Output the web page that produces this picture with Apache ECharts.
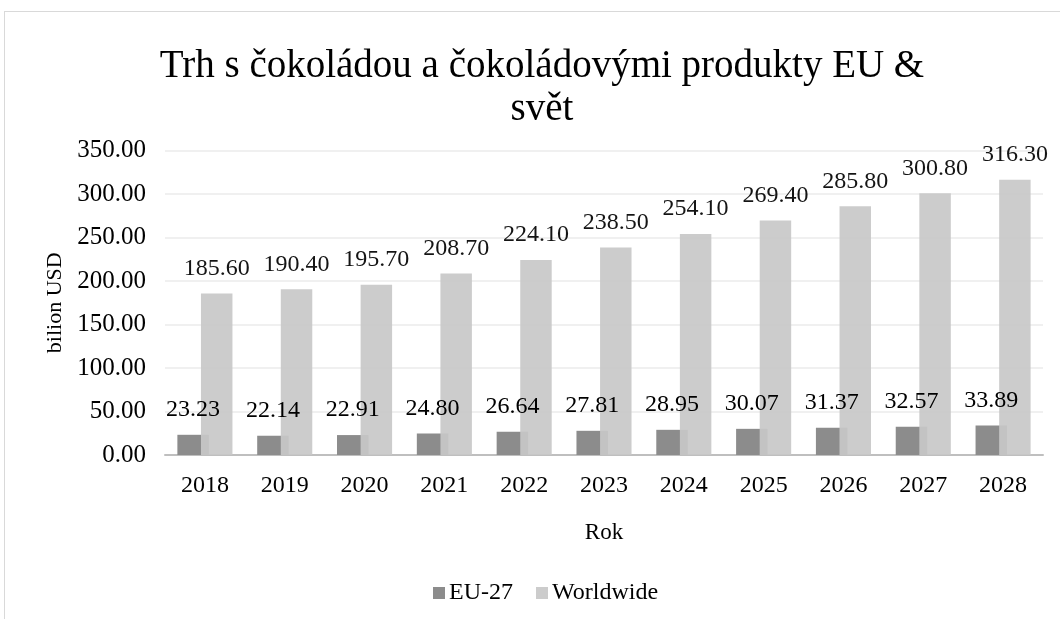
<!DOCTYPE html>
<html><head><meta charset="utf-8">
<script src="https://cdn.jsdelivr.net/npm/echarts@6/dist/echarts.min.js"></script>
<style>
html,body{margin:0;padding:0;background:#fff;}
#frame{position:absolute;left:4px;top:11px;width:1080px;height:640px;border:1.5px solid #d9d9d9;box-sizing:border-box;}
#c{position:absolute;left:0;top:0;width:1060px;height:619px;}
</style></head>
<body><div id="frame"></div><div id="c"></div>
<script>
const categories = ['2018','2019','2020','2021','2022','2023','2024','2025','2026','2027','2028'];
const eu27 = [23.23,22.14,22.91,24.80,26.64,27.81,28.95,30.07,31.37,32.57,33.89];
const worldwide = [185.60,190.40,195.70,208.70,224.10,238.50,254.10,269.40,285.80,300.80,316.30];
const seriesNames = ['EU-27','Worldwide'];
const titleText = 'Trh s čokoládou a čokoládovými produkty EU &\nsvět';
const yName = 'bilion USD';
const xName = 'Rok';

const FONT = '"Liberation Serif", "Times New Roman", serif';
const chart = echarts.init(document.getElementById('c'), null, {renderer:'canvas'});
const lblBase = {show:true, position:'top', distance:13, color:'#000', fontFamily:FONT, fontSize:24};
chart.setOption({
  animation:false,
  textStyle:{fontFamily:FONT},
  title:{text:titleText, left:537, textAlign:'center', top:40,
    textStyle:{fontFamily:FONT, fontSize:39, fontWeight:'normal', color:'#000', lineHeight:43}},
  legend:{bottom:9, left:428, itemWidth:12, itemHeight:12, itemGap:23, icon:'rect',
    textStyle:{fontFamily:FONT, fontSize:24, color:'#000', padding:[0,0,0,-1]}, data:seriesNames},
  grid:{left:165, right:17, top:150.5, bottom:164},
  xAxis:{type:'category', data:categories, name:xName, nameLocation:'middle', nameGap:66,
    nameTextStyle:{fontFamily:FONT, fontSize:23, color:'#000'},
    axisLine:{lineStyle:{color:'#bfbfbf', width:2}}, axisTick:{show:false},
    axisLabel:{fontFamily:FONT, fontSize:24, color:'#000', margin:19}},
  yAxis:{type:'value', min:0, max:350, interval:50, name:yName, nameLocation:'middle', nameGap:98,
    nameRotate:90, nameTextStyle:{fontFamily:FONT, fontSize:22, color:'#000'},
    axisLine:{show:false}, axisTick:{show:false},
    splitLine:{lineStyle:{color:'#ebebeb', width:1.5}},
    axisLabel:{fontFamily:FONT, fontSize:25, color:'#000', margin:19, formatter:v=>v.toFixed(2)}},
  series:[
    {name:seriesNames[0], type:'bar', stack:'eu', data:eu27, itemStyle:{color:'#8c8c8c'},
      barGap:'-25%', barCategoryGap:'31%', z:2},
    {name:seriesNames[1], type:'bar', data:worldwide, itemStyle:{color:'#c8c8c8', opacity:0.92},
      barGap:'-25%', barCategoryGap:'31%', z:3,
      label:Object.assign({}, lblBase, {formatter: p => worldwide[p.dataIndex].toFixed(2)})},
    {name:'EU-27 labels', type:'bar', stack:'eu', data:eu27.map(() => 0), itemStyle:{color:'rgba(0,0,0,0)'},
      barGap:'-25%', barCategoryGap:'31%', z:4, silent:true,
      label:Object.assign({}, lblBase, {formatter: p => eu27[p.dataIndex].toFixed(2)})}
  ]
});
</script></body></html>
